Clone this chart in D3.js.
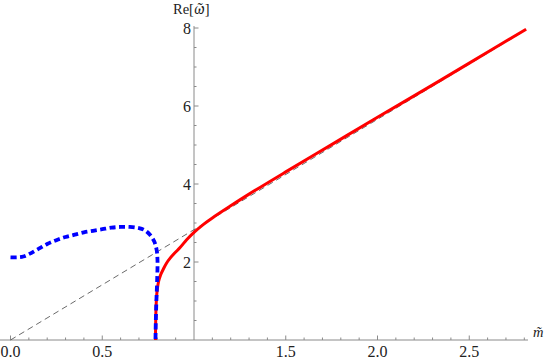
<!DOCTYPE html>
<html>
<head>
<meta charset="utf-8">
<script src="https://cdn.jsdelivr.net/npm/d3@7"></script>
<style>
  body { margin: 0; background: #fff; }
  svg { display: block; }
</style>
</head>
<body>
<div id="chart"></div>
<script>
// Data
var redX = [0.790, 0.791, 0.793, 0.796, 0.800, 0.807, 0.818, 0.833, 0.850, 0.870, 0.895, 0.924, 0.960, 1.000, 1.050, 1.100, 1.200, 1.300, 1.500, 1.750, 2.000, 2.250, 2.500, 2.810]
var redY = [0.00, 0.40, 0.80, 1.10, 1.30, 1.50, 1.67, 1.82, 1.97, 2.10, 2.23, 2.37, 2.57, 2.76, 2.96, 3.13, 3.44, 3.74, 4.31, 5.01, 5.71, 6.40, 7.10, 7.97]

var blueX = [0.000, 0.040, 0.070, 0.100, 0.150, 0.200, 0.250, 0.300, 0.350, 0.400, 0.450, 0.500, 0.550, 0.600, 0.650, 0.700, 0.730, 0.760, 0.783, 0.796, 0.801, 0.799, 0.795, 0.792, 0.790]
var blueY = [2.12, 2.12, 2.14, 2.20, 2.33, 2.46, 2.56, 2.64, 2.70, 2.76, 2.80, 2.84, 2.88, 2.90, 2.90, 2.87, 2.82, 2.70, 2.53, 2.32, 2.05, 1.50, 1.00, 0.50, 0.00]

// asymptote: straight dashed line, two end points
var lineX = [0.0, 2.81]
var lineY = [0.0, 7.95]

var xMajor = [0.0, 0.5, 1.5, 2.0, 2.5]
var xMajorLabels = ['0.0', '0.5', '1.5', '2.0', '2.5']
var yMajor = [2, 4, 6, 8]
var yMajorLabels = ['2', '4', '6', '8']

var width = 545
var height = 360
var fontName = 'Liberation Serif'

var x = d3.scaleLinear()
  .domain([0, 1])
  .range([10.5, 194])

var y = d3.scaleLinear()
  .domain([0, 1])
  .range([340, 301])

var svg = d3.select('#chart')
  .append('svg')
  .attr('width', width)
  .attr('height', height)

var axisColor = '#8a8a8a'

// x axis line (crosses at y = 0), y axis line at x = 1
svg.append('line')
  .attr('x1', x(-0.06)).attr('x2', x(2.82))
  .attr('y1', y(0)).attr('y2', y(0))
  .style('stroke', axisColor)
  .style('stroke-width', 1)

svg.append('line')
  .attr('x1', x(1)).attr('x2', x(1))
  .attr('y1', y(0)).attr('y2', y(8.05))
  .style('stroke', axisColor)
  .style('stroke-width', 1)

// minor ticks
var xMinor = d3.range(1, 29).map(function (i) { return i / 10 })
  .filter(function (v) { return Math.abs(v * 2 - Math.round(v * 2)) > 1e-6 })
var yMinor = d3.range(1, 17).map(function (i) { return i / 2 })
  .filter(function (v) { return v % 2 !== 0 })

svg.selectAll('.xminor')
  .data(xMinor)
  .enter()
  .append('line')
  .attr('x1', function (d) { return x(d) }).attr('x2', function (d) { return x(d) })
  .attr('y1', y(0)).attr('y2', y(0) - 2.5)
  .style('stroke', axisColor)

svg.selectAll('.xmajor')
  .data(xMajor)
  .enter()
  .append('line')
  .attr('x1', function (d) { return x(d) }).attr('x2', function (d) { return x(d) })
  .attr('y1', y(0)).attr('y2', y(0) - 4.5)
  .style('stroke', axisColor)

svg.selectAll('.yminor')
  .data(yMinor)
  .enter()
  .append('line')
  .attr('x1', x(1)).attr('x2', x(1) + 2.5)
  .attr('y1', function (d) { return y(d) }).attr('y2', function (d) { return y(d) })
  .style('stroke', axisColor)

svg.selectAll('.ymajor')
  .data(yMajor)
  .enter()
  .append('line')
  .attr('x1', x(1)).attr('x2', x(1) + 4.5)
  .attr('y1', function (d) { return y(d) }).attr('y2', function (d) { return y(d) })
  .style('stroke', axisColor)

// tick labels
svg.selectAll('.xlabel')
  .data(xMajor)
  .enter()
  .append('text')
  .attr('x', function (d) { return x(d) })
  .attr('y', 357)
  .attr('text-anchor', 'middle')
  .attr('font-family', fontName)
  .style('font-family', fontName)
  .style('font-size', '16px')
  .attr('fill', '#222')
  .text(function (d, i) { return xMajorLabels[i] })

svg.selectAll('.ylabel')
  .data(yMajor)
  .enter()
  .append('text')
  .attr('x', x(1) - 3)
  .attr('y', function (d) { return y(d) + 5.5 })
  .attr('text-anchor', 'end')
  .attr('font-family', fontName)
  .style('font-family', fontName)
  .style('font-size', '16px')
  .attr('fill', '#222')
  .text(function (d, i) { return yMajorLabels[i] })

// axis titles
var yTitle = svg.append('text')
  .attr('x', 173)
  .attr('y', 14)
  .attr('font-family', fontName)
  .style('font-family', fontName)
  .style('font-size', '14.5px')
  .attr('fill', '#222')
yTitle.append('tspan').text('Re[')
yTitle.append('tspan')
  .style('font-family', 'Noto Serif')
  .style('font-size', '13.5px')
  .style('font-style', 'italic')
  .text('\u03C9\u0303')
yTitle.append('tspan').text(']')

svg.append('text')
  .attr('x', 533)
  .attr('y', 337)
  .attr('font-family', fontName)
  .style('font-family', fontName)
  .style('font-size', '14.5px')
  .style('font-style', 'italic')
  .attr('fill', '#222')
  .text('m\u0303')

// curves
var line = d3.line()
  .x(function (d) { return x(d[0]) })
  .y(function (d) { return y(d[1]) })
  .curve(d3.curveCatmullRom.alpha(0.5))

var straight = d3.line()
  .x(function (d) { return x(d[0]) })
  .y(function (d) { return y(d[1]) })

svg.append('path')
  .datum(d3.zip(lineX, lineY))
  .attr('d', straight)
  .style('fill', 'none')
  .style('stroke', '#444')
  .style('stroke-width', 0.8)
  .style('stroke-dasharray', '6,4')

svg.append('path')
  .datum(d3.zip(redX, redY))
  .attr('d', line)
  .style('fill', 'none')
  .style('stroke', '#ff0000')
  .style('stroke-width', 3)

svg.append('path')
  .datum(d3.zip(blueX, blueY))
  .attr('d', line)
  .style('fill', 'none')
  .style('stroke', '#0000ff')
  .style('stroke-width', 3.8)
  .style('stroke-dasharray', '6,3.5')
</script>
</body>
</html>
